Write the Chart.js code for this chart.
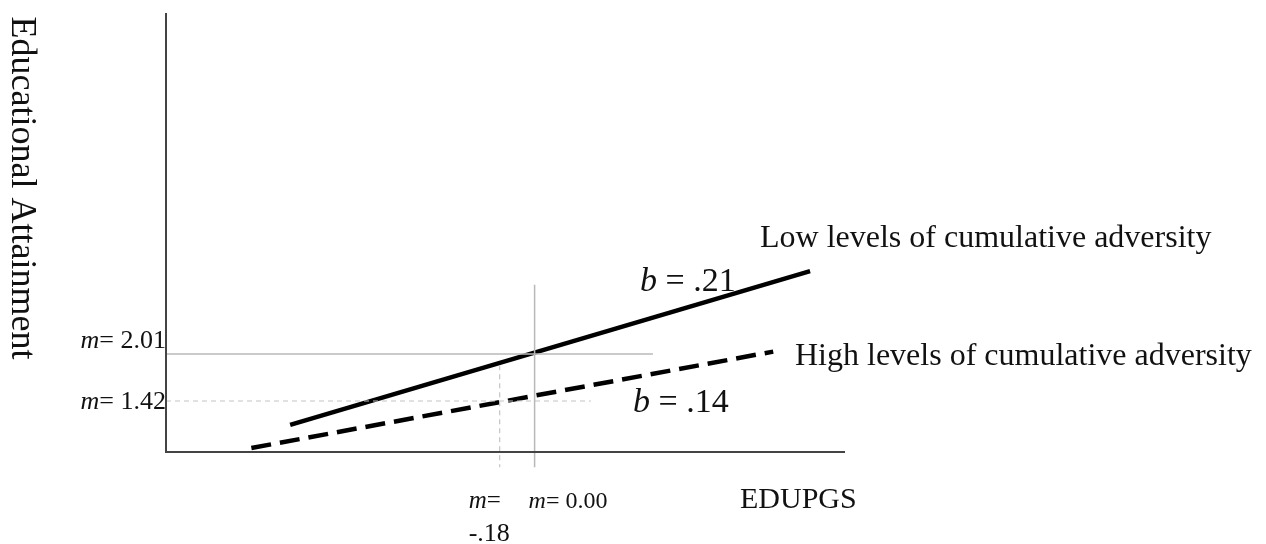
<!DOCTYPE html>
<html>
<head>
<meta charset="utf-8">
<script src="https://cdn.jsdelivr.net/npm/chart.js@4"></script>
<style>
  body { margin: 0; background: #fff; }
</style>
</head>
<body>
<canvas id="chart" width="1266" height="544"></canvas>
<script>
// scale ranges (EDUPGS on x, educational attainment on y)
const xRange = [-1.9, 1.6]
const yRange = [0.78, 6.29]

// simple slopes, two endpoints each
const lowX = [-1.26, 1.42]
const lowY = [1.12, 3.05]
const highX = [-1.46, 1.23]
const highY = [0.83, 2.04]

// means marked on the axes
const meanLow = { x: 0.0, y: 2.01 }
const meanHigh = { x: -0.18, y: 1.42 }
const refLowEnd = 0.61
const refHighEnd = 0.29
const refLowTop = 2.88
const refHighTop = 1.87
const refBottom = 0.59

const serif = '"Liberation Serif", "DejaVu Serif", serif'

const toPoints = (xs, ys) => xs.map((x, i) => ({ x: x, y: ys[i] }))

const drawMixed = (ctx, parts, x, y, size, align) => {
  // parts: [[text, italic], ...]
  let total = 0
  parts.forEach(([t, it]) => {
    ctx.font = `${it ? 'italic ' : ''}${size}px ${serif}`
    total += ctx.measureText(t).width
  })
  let cx = align === 'right' ? x - total : x
  parts.forEach(([t, it]) => {
    ctx.font = `${it ? 'italic ' : ''}${size}px ${serif}`
    ctx.fillText(t, cx, y)
    cx += ctx.measureText(t).width
  })
}

const labelsPlugin = {
  id: 'labels',
  afterDraw(chart) {
    const ctx = chart.ctx
    const xs = chart.scales.x
    const ys = chart.scales.y
    const area = chart.chartArea
    ctx.save()

    // axes
    ctx.strokeStyle = '#444'
    ctx.lineWidth = 2
    ctx.beginPath()
    ctx.moveTo(area.left, area.top)
    ctx.lineTo(area.left, area.bottom)
    ctx.lineTo(area.right, area.bottom)
    ctx.stroke()

    ctx.fillStyle = '#111'
    ctx.textBaseline = 'alphabetic'

    // y axis title, reads top to bottom
    ctx.save()
    ctx.translate(12, 188)
    ctx.rotate(Math.PI / 2)
    ctx.textAlign = 'center'
    ctx.font = `36px ${serif}`
    ctx.fillText('Educational Attainment', 0, 0)
    ctx.restore()

    ctx.textAlign = 'left'
    ctx.font = `32px ${serif}`
    ctx.fillText('Low levels of cumulative adversity', 760, 247)
    ctx.fillText('High levels of cumulative adversity', 795, 365)
    ctx.font = `30px ${serif}`
    ctx.fillText('EDUPGS', 740, 508)

    drawMixed(ctx, [['b', true], [' = .21', false]], 640, 291, 34, 'left')
    drawMixed(ctx, [['b', true], [' = .14', false]], 633, 412, 34, 'left')

    // mean labels
    drawMixed(ctx, [['m', true], ['= ' + meanLow.y.toFixed(2), false]], area.left, ys.getPixelForValue(meanLow.y) - 6, 26, 'right')
    drawMixed(ctx, [['m', true], ['= ' + meanHigh.y.toFixed(2), false]], area.left, ys.getPixelForValue(meanHigh.y) + 8, 26, 'right')
    drawMixed(ctx, [['m', true], ['= ' + meanLow.x.toFixed(2), false]], xs.getPixelForValue(meanLow.x) - 6, 508, 24, 'left')
    drawMixed(ctx, [['m', true], ['=', false]], xs.getPixelForValue(meanHigh.x) - 31, 508, 25, 'left')
    ctx.font = `26px ${serif}`
    ctx.fillText(meanHigh.x.toFixed(2).replace('0.', '.'), xs.getPixelForValue(meanHigh.x) - 31, 541)

    ctx.restore()
  },
}

new Chart(document.getElementById('chart'), {
  type: 'scatter',
  data: {
    datasets: [
      {
        data: toPoints([xRange[0], refLowEnd], [meanLow.y, meanLow.y]),
        borderColor: '#b8b8b8',
        borderWidth: 1.5,
        clip: false,
      },
      {
        data: toPoints([meanLow.x, meanLow.x], [refLowTop, refBottom]),
        borderColor: '#b8b8b8',
        borderWidth: 1.5,
        clip: false,
      },
      {
        data: toPoints([xRange[0], refHighEnd], [meanHigh.y, meanHigh.y]),
        borderColor: '#c4c4c4',
        borderWidth: 1.2,
        borderDash: [5, 4],
        clip: false,
      },
      {
        data: toPoints([meanHigh.x, meanHigh.x], [refHighTop, refBottom]),
        borderColor: '#c4c4c4',
        borderWidth: 1.2,
        borderDash: [5, 4],
        clip: false,
      },
      {
        data: toPoints(lowX, lowY),
        borderColor: '#000',
        borderWidth: 4.5,
        clip: false,
      },
      {
        data: toPoints(highX, highY),
        borderColor: '#000',
        borderWidth: 4.5,
        borderDash: [20, 9],
        clip: false,
      },
    ],
  },
  options: {
    responsive: false,
    animation: false,
    showLine: true,
    elements: { point: { radius: 0 }, line: { tension: 0 } },
    layout: { padding: { left: 166, right: 421, top: 13, bottom: 92 } },
    scales: {
      x: { type: 'linear', display: false, min: xRange[0], max: xRange[1] },
      y: { type: 'linear', display: false, min: yRange[0], max: yRange[1] },
    },
    plugins: {
      legend: { display: false },
      tooltip: { enabled: false },
    },
  },
  plugins: [labelsPlugin],
})
</script>
</body>
</html>
